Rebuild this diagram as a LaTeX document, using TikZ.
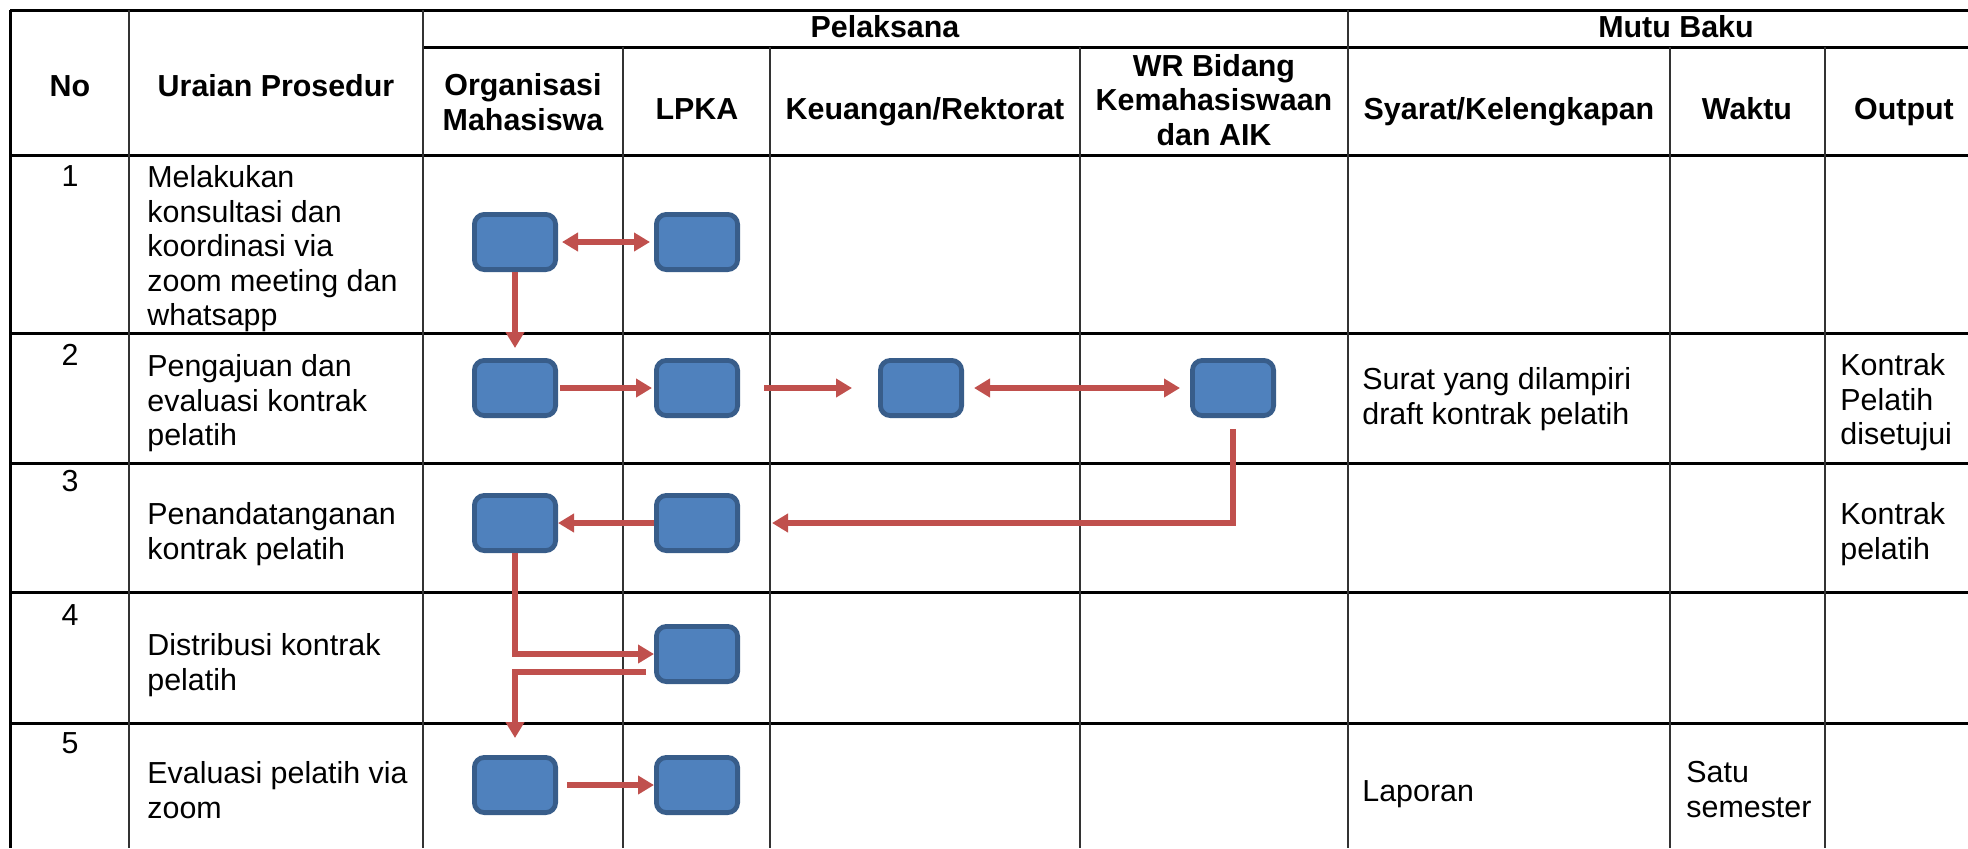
\documentclass[tikz,border=0pt]{standalone}
\usepackage{fontspec}
\setmainfont{Liberation Sans}
\usetikzlibrary{positioning, calc, arrows.meta}
\definecolor{actblue}{HTML}{4F81BD}
\definecolor{actedge}{HTML}{385D8A}
\definecolor{flowred}{HTML}{C0504D}
\tikzset{
	every node/.style={
		align=center,
		font=\fontsize{15.2}{17.3}\selectfont,
	},
}
\tikzstyle{head} = [font=\fontsize{15.2}{17.3}\selectfont\bfseries]
\tikzstyle{cell} = [anchor=north west, inner sep=0pt, align=left]
\tikzstyle{num} = [anchor=north, inner sep=0pt]
\tikzstyle{act} = [rectangle, rounded corners=5pt, draw=actedge, line width=2.4pt, fill=actblue, minimum width=40.6pt, minimum height=27.6pt, inner sep=0pt]
\tikzstyle{flow} = [draw=flowred, line width=2.8pt, -{Triangle[length=8pt,width=9pt]}]
\tikzstyle{flowboth} = [flow, {Triangle[length=8pt,width=9pt]}-{Triangle[length=8pt,width=9pt]}]
\tikzstyle{hline} = [line width=1.5pt]
\tikzstyle{vline} = [line width=0.8pt, black!80]
\begin{document}
\begin{tikzpicture}[x=0.5pt, y=-0.5pt]
    \useasboundingbox (0,0) rectangle (1968,848);
    \clip (0,0) rectangle (1968,848);

    \draw [hline] (10,10) -- (2000,10);
    \draw [hline] (423,47) -- (2000,47);
    \draw [hline] (10,155) -- (2000,155);
    \draw [hline] (10,333) -- (2000,333);
    \draw [hline] (10,463) -- (2000,463);
    \draw [hline] (10,592) -- (2000,592);
    \draw [hline] (10,723) -- (2000,723);

    \draw [hline] (10,10) -- (10,848);
    \draw [vline] (129,10) -- (129,848);
    \draw [vline] (423,10) -- (423,848);
    \draw [vline] (623,47) -- (623,848);
    \draw [vline] (770,47) -- (770,848);
    \draw [vline] (1080,47) -- (1080,848);
    \draw [vline] (1348,10) -- (1348,848);
    \draw [vline] (1670,47) -- (1670,848);
    \draw [vline] (1825,47) -- (1825,848);

    \node (no) [head, anchor=base] at (70,96) {No};
    \node (ur) [head, anchor=base] at (276,96) {Uraian Prosedur};
    \node (pl) [head, anchor=base] at (885,37) {Pelaksana};
    \node (mb) [head, anchor=base] at (1676,37) {Mutu Baku};
    \node (om) [head] at (523,102) {Organisasi\\Mahasiswa};
    \node (lp) [head, anchor=base] at (697,119) {LPKA};
    \node (kr) [head, anchor=base] at (925,119) {Keuangan/Rektorat};
    \node (wr) [head] at (1214,100) {WR Bidang\\Kemahasiswaan\\dan AIK};
    \node (sk) [head, anchor=base] at (1509,119) {Syarat/Kelengkapan};
    \node (wk) [head, anchor=base] at (1747,119) {Waktu};
    \node (op) [head, anchor=base] at (1904,119) {Output};

    \node (n1) [num] at (70,165) {1};
    \node (n2) [num] at (70,344) {2};
    \node (n3) [num] at (70,470) {3};
    \node (n4) [num] at (70,604) {4};
    \node (n5) [num] at (70,732) {5};

    \node (u1) [cell] at (147,165) {Melakukan\\konsultasi dan\\koordinasi via\\zoom meeting dan\\whatsapp};
    \node (u2) [cell] at (147,354) {Pengajuan dan\\evaluasi kontrak\\pelatih};
    \node (u3) [cell] at (147,502) {Penandatanganan\\kontrak pelatih};
    \node (u4) [cell] at (147,633) {Distribusi kontrak\\pelatih};
    \node (u5) [cell] at (147,761) {Evaluasi pelatih via\\zoom};
    \node (s2) [cell] at (1362,367) {Surat yang dilampiri\\draft kontrak pelatih};
    \node (s5) [cell] at (1362,780) {Laporan};
    \node (w5) [cell] at (1686,761) {Satu\\semester};
    \node (o2) [cell] at (1840,353) {Kontrak\\Pelatih\\disetujui};
    \node (o3) [cell] at (1840,502) {Kontrak\\pelatih};

    \node (a1) [act] at (515,242) {};
    \node (b1) [act, right=48pt of a1] {};
    \node (a2) [act] at (515,388) {};
    \node (b2) [act, right=48pt of a2] {};
    \node (c2) [act] at (921,388) {};
    \node (d2) [act] at (1233,388) {};
    \node (a3) [act] at (515,523) {};
    \node (b3) [act, right=48pt of a3] {};
    \node (b4) [act] at (697,654) {};
    \node (a5) [act] at (515,785) {};
    \node (b5) [act, right=48pt of a5] {};

    \draw [flowboth, shorten <=2pt, shorten >=2pt] (a1) -- (b1);
    \draw [flow, shorten >=5pt] (a1) -- (a2);
    \draw [flow, shorten <=1pt, shorten >=1pt] (a2) -- (b2);
    \draw [flow, shorten <=12pt, shorten >=13pt] (b2) -- (c2);
    \draw [flowboth, shorten <=5pt, shorten >=5pt] (c2) -- (d2);
    \draw [flow, shorten <=5.5pt, shorten >=16pt] (d2) |- (b3);
    \draw [flow] (b3) -- (a3);
    \draw [flow] (a3) |- (b4);
    \coordinate (b4out) at ($(b4.west)+(-4pt,-9pt)$);
    \draw [flow, shorten >=8.5pt] (b4out) -| (a5);
    \draw [flow, shorten <=4.5pt] (a5) -- (b5);
\end{tikzpicture}
\end{document}
